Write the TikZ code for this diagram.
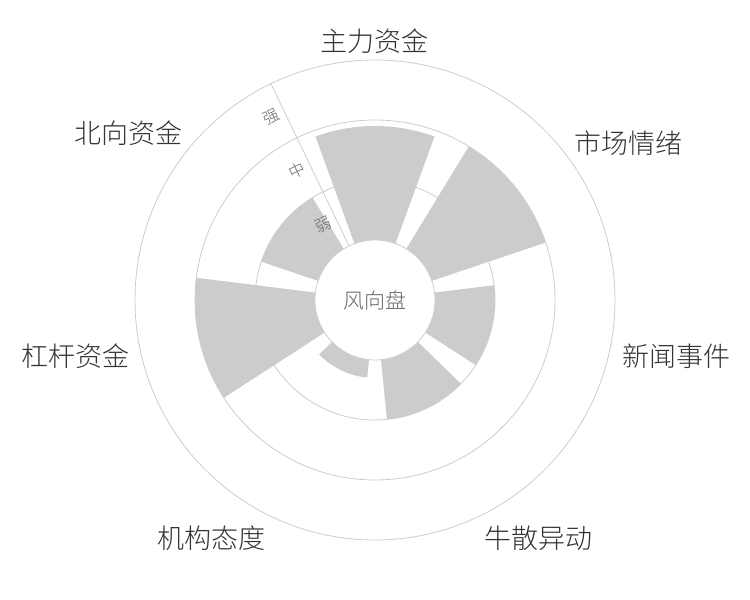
\documentclass[tikz,border=0pt]{standalone}
\usepackage{fontspec}
\setmainfont{Noto Sans CJK SC Light}[BoldFont={Noto Sans CJK SC}]
\usetikzlibrary{positioning}
\definecolor{barfill}{HTML}{CCCCCC}
\definecolor{gridline}{HTML}{CCCCCC}
\definecolor{labeltext}{HTML}{333333}
\definecolor{scaletext}{HTML}{666666}
\tikzset{
  grid/.style={draw=gridline, line width=0.8pt},
  bar/.style={fill=barfill},
  axislabel/.style={text=labeltext, font=\fontsize{27}{27}\selectfont, inner sep=2pt},
  scalelabel/.style={text=scaletext, font=\fontsize{16}{16}\selectfont, rotate=25.7, anchor=east, inner sep=6pt},
}
\newcommand{\roseBar}[2]{% center angle, radius
  \fill[bar] ({#1-20}:60) -- ({#1-20}:#2) arc[start angle={#1-20}, end angle={#1+20}, radius=#2]
    -- ({#1+20}:60) arc[start angle={#1+20}, end angle={#1-20}, radius=60] -- cycle;
}
\begin{document}
\begin{tikzpicture}[x=1pt,y=1pt]
\useasboundingbox (-375,-300) rectangle (375,300);

%rings
\draw[grid] (0,0) circle[radius=240];
\draw[grid] (0,0) circle[radius=180];
\draw[grid] (0,0) circle[radius=120];

%bars
\foreach \ang/\rad in {90/174, 38.6/180, -12.9/120, -64.3/120, -115.7/78, -167.1/180, 141.4/120}
  \roseBar{\ang}{\rad};

%hub
\node[grid, circle, fill=white, minimum size=120pt, text=scaletext,
  font=\fontsize{21}{21}\selectfont] (hub) at (0,0) {风向盘};

%radial axis
\coordinate (axisin) at (115.7:60);
\coordinate (axisout) at (115.7:240);
\draw[grid] (axisin) -- (axisout);
\node[scalelabel] (weak) at (115.7:90) {弱};
\node[scalelabel] (mid) at (115.7:150) {中};
\node[scalelabel] (strong) at (115.7:210) {强};

%category labels
\node[axislabel, anchor=south] (zhuli) at (90:244) {主力资金};
\node[axislabel, anchor=west] (qingxu) at (38.6:252) {市场情绪};
\node[axislabel, anchor=west] (xinwen) at (-12.9:252) {新闻事件};
\node[axislabel, anchor=north west] (niusan) at (-64.3:248) {牛散异动};
\node[axislabel, anchor=north east] (jigou) at (-115.7:248) {机构态度};
\node[axislabel, anchor=east] (ganggan) at (-167.1:250) {杠杆资金};
\node[axislabel, anchor=south east] (beixiang) at (141.4:244) {北向资金};

\end{tikzpicture}
\end{document}
